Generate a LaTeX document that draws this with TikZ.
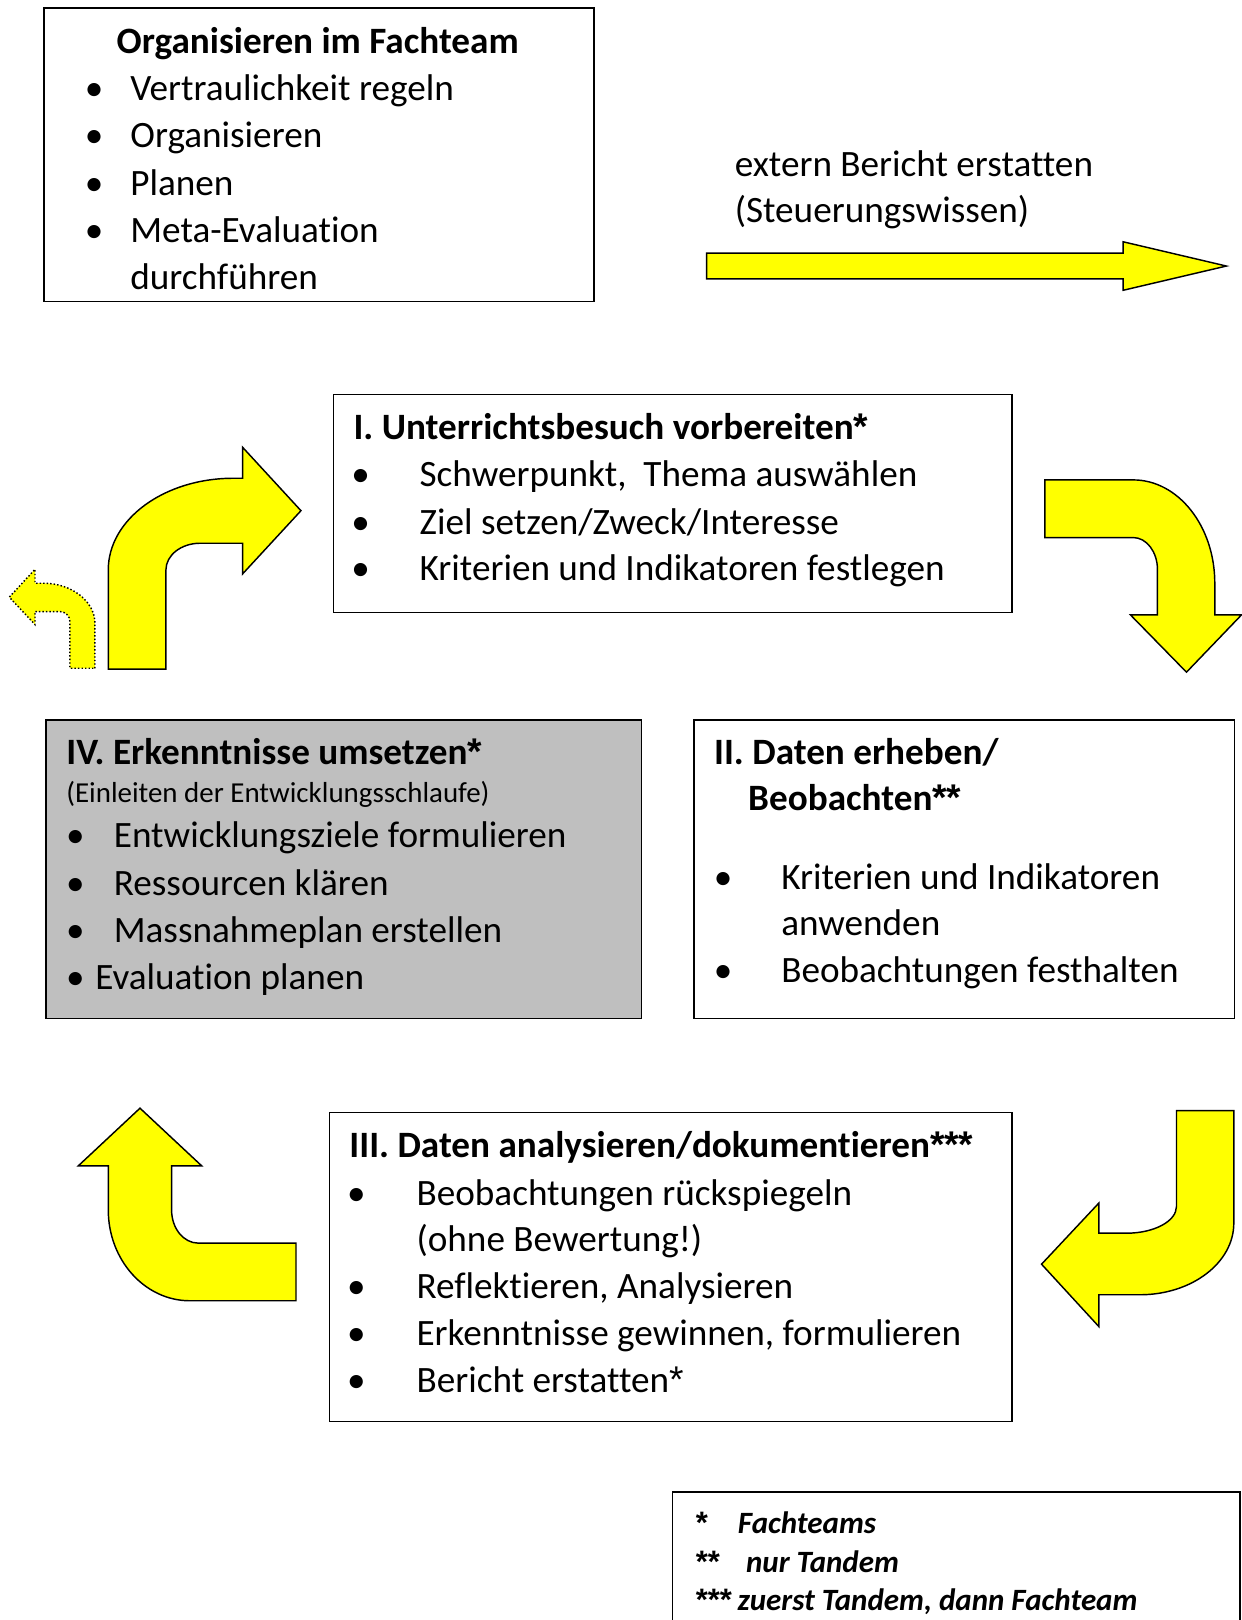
\documentclass[tikz,border=0pt]{standalone}
\usepackage{fontspec}
\setmainfont{Carlito}[Ligatures=NoCommon]
\newfontfamily\astfont{Liberation Sans}
\newcommand{\myast}{{\astfont *}}
\definecolor{arrowyellow}{RGB}{255,255,0}
\definecolor{boxgray}{RGB}{191,191,191}
\begin{document}
\begin{tikzpicture}[x=1pt,y=-1pt,
  box/.style={draw=black, line width=1.6pt, inner sep=0pt, anchor=north west},
  txt/.style={inner sep=0pt, anchor=base west, font=\fontsize{36pt}{44pt}\selectfont},
  ttl/.style={inner sep=0pt, anchor=base west, font=\fontsize{36pt}{44pt}\selectfont\bfseries},
  small/.style={inner sep=0pt, anchor=base west, font=\fontsize{28pt}{34pt}\selectfont},
  bul/.style={inner sep=0pt, anchor=base, font=\fontsize{36pt}{44pt}\selectfont},
  leg/.style={inner sep=0pt, anchor=base west, font=\fontsize{30pt}{38pt}\selectfont\bfseries\itshape},
  blockarrow/.style={draw=black, line width=1.4pt, fill=arrowyellow, line join=miter},
  dotarrow/.style={draw=black, line width=1.4pt, fill=arrowyellow, dotted, line join=miter}]
\useasboundingbox (0,0) rectangle (1202,1568);
\fill[white] (0,0) rectangle (1202,1568);

% ---------- top box ----------
\node[box, minimum width=532pt, minimum height=284pt] (b0) at (42,7) {};
\node[ttl, anchor=base] (b0t) at (307.5,52) {Organisieren im Fachteam};
\node[bul] (b0b1) at (91,97) {•};
\node[txt] (b0l1) at (126,97) {Vertraulichkeit regeln};
\node[bul] (b0b2) at (91,143) {•};
\node[txt] (b0l2) at (126,143) {Organisieren};
\node[bul] (b0b3) at (91,189) {•};
\node[txt] (b0l3) at (126,189) {Planen};
\node[bul] (b0b4) at (91,235) {•};
\node[txt] (b0l4) at (126,235) {Meta-Evaluation};
\node[txt] (b0l5) at (126,280) {durchführen};

% ---------- external report ----------
\node[txt] (ext1) at (711,171) {extern Bericht erstatten};
\node[txt] (ext2) at (711,215) {(Steuerungswissen)};
\draw[blockarrow] (684,245) -- (1087,245) -- (1087,234) -- (1187,257.5) -- (1087,281) -- (1087,270) -- (684,270) -- cycle;

% ---------- box I ----------
\node[box, minimum width=657pt, minimum height=211pt] (b1) at (322,381) {};
\node[ttl] (b1t) at (342,425) {I. Unterrichtsbesuch vorbereiten\myast};
\node[bul] (b1b1) at (349,471) {•};
\node[txt] (b1l1) at (406,471) {Schwerpunkt,\ \ Thema auswählen};
\node[bul] (b1b2) at (349,517) {•};
\node[txt] (b1l2) at (406,517) {Ziel setzen/Zweck/Interesse};
\node[bul] (b1b3) at (349,562) {•};
\node[txt] (b1l3) at (406,562) {Kriterien und Indikatoren festlegen};

% ---------- box IV ----------
\node[box, fill=boxgray, minimum width=576pt, minimum height=289pt] (b4) at (44,696) {};
\node[ttl] (b4t) at (64,740) {IV. Erkenntnisse umsetzen\myast};
\node[small] (b4s) at (64,776.5) {(Einleiten der Entwicklungsschlaufe)};
\node[bul] (b4b1) at (73,820) {•};
\node[txt] (b4l1) at (110,820) {Entwicklungsziele formulieren};
\node[bul] (b4b2) at (73,867) {•};
\node[txt] (b4l2) at (110,867) {Ressourcen klären};
\node[bul] (b4b3) at (73,912) {•};
\node[txt] (b4l3) at (110,912) {Massnahmeplan erstellen};
\node[bul] (b4b4) at (73,958) {•};
\node[txt] (b4l4) at (92,958) {Evaluation planen};

% ---------- box II ----------
\node[box, minimum width=523pt, minimum height=289pt] (b2) at (671,696) {};
\node[ttl] (b2t1) at (691,740) {II. Daten erheben/};
\node[ttl] (b2t2) at (724,784) {Beobachten\myast\myast};
\node[bul] (b2b1) at (700,861) {•};
\node[txt] (b2l1) at (756,861) {Kriterien und Indikatoren};
\node[txt] (b2l2) at (756,905) {anwenden};
\node[bul] (b2b2) at (700,951) {•};
\node[txt] (b2l3) at (756,951) {Beobachtungen festhalten};

% ---------- box III ----------
\node[box, minimum width=661pt, minimum height=299pt] (b3) at (318,1076) {};
\node[ttl] (b3t) at (338,1120) {III. Daten analysieren/dokumentieren\myast\myast\myast};
\node[bul] (b3b1) at (345,1167) {•};
\node[txt] (b3l1) at (403,1167) {Beobachtungen rückspiegeln};
\node[txt] (b3l2) at (403,1211) {(ohne Bewertung!)};
\node[bul] (b3b2) at (345,1257) {•};
\node[txt] (b3l3) at (403,1257) {Reflektieren, Analysieren};
\node[bul] (b3b3) at (345,1302) {•};
\node[txt] (b3l4) at (403,1302) {Erkenntnisse gewinnen, formulieren};
\node[bul] (b3b4) at (345,1348) {•};
\node[txt] (b3l5) at (403,1348) {Bericht erstatten\myast};

% ---------- legend ----------
\draw[line width=1.6pt] (651,1570) -- (651,1444) -- (1200,1444) -- (1200,1570);
\node[leg] (lg1a) at (672,1484) {\myast};
\node[leg] (lg1b) at (714,1484) {Fachteams};
\node[leg] (lg2a) at (672,1522) {\myast\myast};
\node[leg] (lg2b) at (722,1522) {nur Tandem};
\node[leg] (lg3) at (672,1559) {\myast\myast\myast\ zuerst Tandem, dann Fachteam};

% ---------- curved block arrows ----------
% top left: up, then right
\draw[blockarrow] (104.8,647.7) -- (104.8,551.6)
  .. controls (104.8,502.6) and (159.0,462.9) .. (225.8,462.9)
  -- (234.8,462.9) -- (234.8,432.9) -- (291.3,494.3) -- (234.8,555.5) -- (234.8,525.8)
  -- (193.6,525.8) .. controls (175.4,525.8) and (160.6,537.4) .. (160.6,551.6)
  -- (160.6,647.7) -- cycle;
% small dotted arrow: up, then left
\draw[dotarrow] (91.9,646.8) -- (91.9,603.5)
  .. controls (91.9,582.0) and (69.5,564.5) .. (41.9,564.5)
  -- (33.9,564.5) -- (33.9,551) -- (9.0,578) -- (33.9,604.5) -- (33.9,591.9)
  -- (57.7,591.9) .. controls (63.2,591.9) and (67.7,596.2) .. (67.7,601.6)
  -- (67.7,646.8) -- cycle;
% top right: right, then down
\draw[blockarrow] (1011.3,464.5) -- (1096.8,464.5)
  .. controls (1140.4,464.5) and (1175.8,509.3) .. (1175.8,564.5)
  -- (1175.8,595.2) -- (1201.6,595.2) -- (1148.4,650.6) -- (1094.2,595.2) -- (1120.3,595.2)
  -- (1120.3,551.3) .. controls (1120.3,534.2) and (1109.8,520.3) .. (1096.8,520.3)
  -- (1011.3,520.3) -- cycle;
% bottom right: down, then left
\draw[blockarrow] (1138.7,1074.9) -- (1194.2,1074.9) -- (1194.2,1183.9)
  .. controls (1194.2,1222.2) and (1153.5,1253.2) .. (1103.2,1253.2)
  -- (1063.5,1253.2) -- (1063.5,1283.9) -- (1008.1,1223.6) -- (1063.5,1164.5) -- (1063.5,1193.6)
  -- (1090.3,1193.6) .. controls (1117.0,1193.6) and (1138.7,1182.0) .. (1138.7,1167.8)
  -- cycle;
% bottom left: left, then up
\draw[blockarrow] (286.5,1259) -- (286.5,1203.2) -- (191.9,1203.2)
  .. controls (177.6,1203.2) and (166.1,1188.9) .. (166.1,1171.2)
  -- (166.1,1128.4) -- (195.2,1128.4) -- (135.5,1072.6) -- (75.8,1128.4) -- (104.8,1128.4)
  -- (104.8,1171) .. controls (104.8,1219.6) and (140.2,1259) .. (183.8,1259)
  -- cycle;
\end{tikzpicture}
\end{document}
